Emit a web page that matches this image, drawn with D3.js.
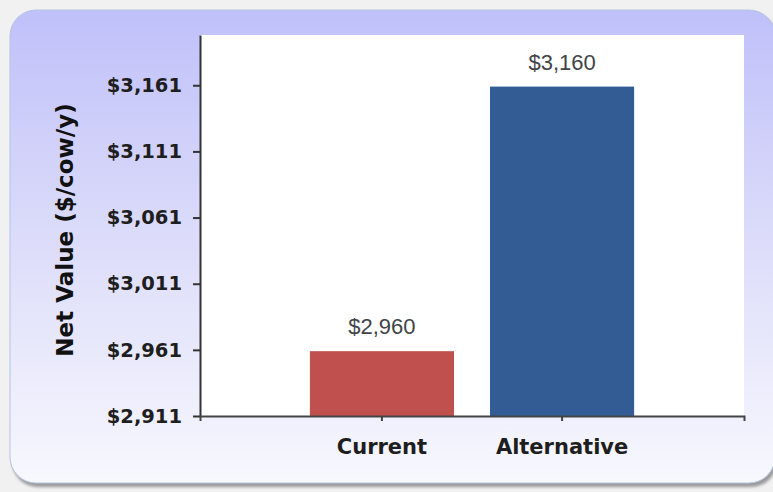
<!DOCTYPE html>
<html>
<head>
<meta charset="utf-8">
<script src="https://cdn.jsdelivr.net/npm/d3@7"></script>
<style>
  body { margin: 0; background: #f1f1f1; }
  svg { display: block; }
</style>
</head>
<body>
<svg id="chart" width="773" height="492"></svg>
<script>
const categories = ["Current", "Alternative"];
const values = [2960, 3160];
const barColors = ["#C0504D", "#335C94"];
const yTicks = [2911, 2961, 3011, 3061, 3111, 3161];
const yMin = 2911, yMax = 3199;

const svg = d3.select("#chart"),
  margin = { top: 35, right: 29, bottom: 76, left: 200 },
  width = +svg.attr("width") - margin.left - margin.right,
  height = +svg.attr("height") - margin.top - margin.bottom;

const defs = svg.append("defs");
const grad = defs.append("linearGradient")
  .attr("id", "panelGrad")
  .attr("x1", 0).attr("y1", 0).attr("x2", 0).attr("y2", 1);
grad.append("stop").attr("offset", "0%").attr("stop-color", "#c0c0fa");
grad.append("stop").attr("offset", "45%").attr("stop-color", "#dadafa");
grad.append("stop").attr("offset", "100%").attr("stop-color", "#f8f8fe");

defs.append("filter").attr("id", "blur")
  .append("feGaussianBlur").attr("stdDeviation", 1.5);

// panel + shadow
svg.append("rect")
  .attr("x", 12).attr("y", 13).attr("width", 765).attr("height", 474)
  .attr("rx", 26).attr("fill", "#9a9a9a").attr("filter", "url(#blur)");
svg.append("rect")
  .attr("x", 10).attr("y", 10).attr("width", 765).attr("height", 473)
  .attr("rx", 26).attr("fill", "url(#panelGrad)")
  .attr("stroke", "#b4c6e6").attr("stroke-width", 1);

const chart = svg.append("g")
  .attr("transform", `translate(${margin.left},${margin.top})`);

chart.append("rect")
  .attr("width", width).attr("height", height)
  .attr("fill", "#ffffff");

const x = d3.scaleBand()
  .domain(categories)
  .range([0, width])
  .paddingInner(0.2)
  .paddingOuter(0.61);

const y = d3.scaleLinear().domain([yMin, yMax]).range([height, 0]);

chart.selectAll("rect.bar")
  .data(categories)
  .join("rect")
  .attr("class", "bar")
  .attr("x", (d) => x(d))
  .attr("width", x.bandwidth())
  .attr("y", (d, i) => y(values[i]))
  .attr("height", (d, i) => height - y(values[i]))
  .attr("fill", (d, i) => barColors[i]);

chart.selectAll("text.value")
  .data(categories)
  .join("text")
  .attr("class", "value")
  .attr("x", (d) => x(d) + x.bandwidth() / 2)
  .attr("y", (d, i) => y(values[i]) - 17)
  .attr("text-anchor", "middle")
  .attr("font-family", "Liberation Sans, Arial, sans-serif")
  .attr("font-size", 22)
  .attr("fill", "#404448")
  .text((d, i) => "$" + d3.format(",")(values[i]));

const yAxis = chart.append("g")
  .call(d3.axisLeft(y).tickValues(yTicks).tickSize(7).tickSizeOuter(0)
    .tickPadding(11).tickFormat((d) => "$" + d3.format(",")(d)));
yAxis.select(".domain").attr("stroke", "#333").attr("stroke-width", 2);
yAxis.selectAll(".tick line").attr("stroke", "#333").attr("stroke-width", 2);
yAxis.selectAll(".tick text")
  .attr("font-family", "DejaVu Sans, sans-serif")
  .attr("font-weight", "bold")
  .attr("font-size", 19.5)
  .attr("fill", "#1e1e1e");

const xAxis = chart.append("g")
  .attr("transform", `translate(0,${height})`)
  .call(d3.axisBottom(x).tickSize(5).tickSizeOuter(5).tickPadding(18));
xAxis.select(".domain").attr("stroke", "#444").attr("stroke-width", 2);
xAxis.selectAll(".tick line").attr("stroke", "#444").attr("stroke-width", 2);
xAxis.selectAll(".tick text")
  .attr("font-family", "DejaVu Sans, sans-serif")
  .attr("font-weight", "bold")
  .attr("font-size", 21)
  .attr("fill", "#1e1e1e");

chart.append("text")
  .attr("class", "y label")
  .attr("text-anchor", "middle")
  .attr("transform", "rotate(-90)")
  .attr("x", -195)
  .attr("y", -127)
  .attr("font-family", "DejaVu Sans, sans-serif")
  .attr("font-weight", "bold")
  .attr("font-size", 23)
  .attr("fill", "#111")
  .text("Net Value ($/cow/y)");
</script>
</body>
</html>
